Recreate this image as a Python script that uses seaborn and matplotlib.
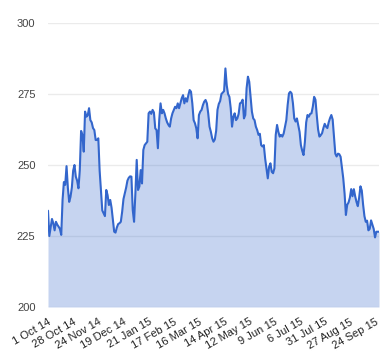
import matplotlib
matplotlib.use("Agg")
import matplotlib.pyplot as plt
import numpy as np
import pandas as pd
import seaborn as sns

# Tick labels shown every 19 trading days
TICK_LABELS = [
    "1 Oct 14", "28 Oct 14", "24 Nov 14", "19 Dec 14", "21 Jan 15",
    "17 Feb 15", "16 Mar 15", "14 Apr 15", "12 May 15", "9 Jun 15",
    "6 Jul 15", "31 Jul 15", "27 Aug 15", "24 Sep 15",
]
TICK_STEP = 19

# Daily closing values
PRICES = [
    233.9, 225.0, 228.0, 231.0, 229.5, 227.0, 230.0, 229.0, 228.3, 227.5,
    225.4, 237.7, 244.0, 243.0, 249.6, 242.0, 237.0, 238.8, 242.0, 248.0,
    250.0, 245.9, 244.5, 241.8, 248.0, 262.0, 260.6, 254.7, 268.8, 267.0,
    267.5, 270.0, 265.8, 265.0, 263.0, 262.3, 258.8, 258.8, 259.4, 248.0,
    241.0, 234.0, 233.0, 232.0, 241.2, 239.4, 235.9, 237.7, 235.0, 230.6,
    226.5, 226.2, 228.0, 229.2, 229.5, 230.0, 233.5, 238.0, 240.0, 242.0,
    244.5, 245.5, 246.0, 245.9, 234.2, 230.0, 240.0, 251.8, 241.2, 242.4,
    248.2, 243.5, 255.3, 257.0, 257.6, 258.2, 268.2, 268.8, 268.0, 269.4,
    268.5, 262.9, 262.3, 255.9, 265.8, 271.7, 268.2, 269.4, 268.2, 266.4,
    265.0, 264.1, 263.5, 266.4, 268.2, 269.4, 270.5, 270.0, 271.7, 270.0,
    271.7, 273.5, 274.6, 271.7, 273.5, 272.3, 274.6, 276.4, 275.8, 271.7,
    265.8, 264.7, 262.9, 259.4, 267.6, 268.8, 269.4, 271.1, 272.3, 272.9,
    271.7, 268.2, 263.5, 261.7, 259.4, 258.2, 259.0, 262.0, 269.4, 271.5,
    272.5, 275.0, 275.5, 276.0, 284.0, 278.0, 275.0, 274.0, 270.0, 263.5,
    267.0, 268.2, 265.8, 266.4, 268.0, 271.7, 272.0, 273.0, 266.4, 267.6,
    277.0, 281.1, 279.3, 274.0, 268.8, 266.4, 265.8, 263.5, 262.3, 260.6,
    261.0, 257.0, 256.5, 257.0, 252.3, 248.8, 245.3, 249.4, 250.6, 247.6,
    247.1, 248.8, 260.6, 264.1, 261.7, 260.0, 260.6, 260.0, 261.1, 263.5,
    265.8, 271.1, 275.2, 275.8, 275.2, 271.7, 266.4, 265.3, 266.4, 264.1,
    261.7, 257.0, 255.0, 253.5, 258.0, 265.0, 267.6, 267.0, 268.0, 268.2,
    270.5, 274.0, 273.0, 267.5, 262.5, 260.0, 260.5, 261.2, 263.0, 264.5,
    263.5, 263.0, 265.0, 266.5, 267.6, 266.0, 260.0, 254.0, 253.0, 254.0,
    253.8, 252.9, 249.0, 245.3, 240.0, 232.4, 236.0, 236.8, 238.5, 241.5,
    239.0, 241.5, 239.0, 237.0, 235.5, 238.5, 242.5, 241.0, 236.0, 232.0,
    230.0, 230.4, 227.0, 227.5, 230.5, 229.0, 227.5, 224.5, 226.5, 226.5,
    226.5,
]
Y_TICKS = [200, 225, 250, 275, 300]

sns.set_style("white")
plt.rcParams["font.family"] = ["Liberation Sans", "DejaVu Sans"]

df = pd.DataFrame({"day": np.arange(len(PRICES)), "price": PRICES})

fig = plt.figure(figsize=(3.8, 3.6), dpi=100)
ax = fig.add_axes([48 / 380, 53 / 360, 331 / 380, 284 / 360])

# area under the line, then the line on top
ax.fill_between(df["day"], Y_TICKS[0], df["price"], color="#3366cc", alpha=0.28, linewidth=0)
sns.lineplot(data=df, x="day", y="price", ax=ax, color="#3366cc", linewidth=1.5)

ax.set_xlim(0, len(PRICES) - 1)
ax.set_ylim(Y_TICKS[0], Y_TICKS[-1])
ax.set_yticks(Y_TICKS)
ax.yaxis.grid(True, color="#ebebeb", linewidth=1)
ax.set_axisbelow(True)

ax.set_xticks(list(range(0, len(PRICES), TICK_STEP))[:len(TICK_LABELS)])
ax.set_xticklabels(TICK_LABELS, rotation=30, ha="right", rotation_mode="anchor")
ax.tick_params(axis="x", length=0, labelsize=8, pad=7, labelcolor="#222222")
ax.tick_params(axis="y", length=0, labelsize=8, pad=9, labelcolor="#444444")
ax.set_xlabel("")
ax.set_ylabel("")
sns.despine(ax=ax, left=True, bottom=True)

fig.savefig("out.png", dpi=100)
